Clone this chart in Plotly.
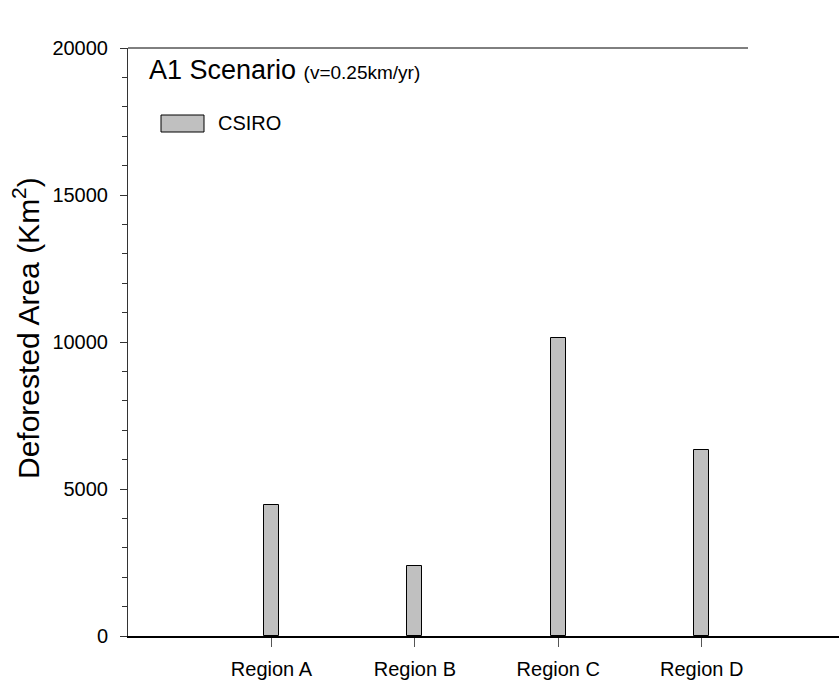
import plotly.graph_objects as go

regions = ["Region A", "Region B", "Region C", "Region D"]
csiro = [4450, 2380, 10150, 6330]
yticks = [0, 5000, 10000, 15000, 20000]
ytick_text = ["0", "5000", "10000", "15000", "20000"]

FONT = "Liberation Sans, Arial, sans-serif"

fig = go.Figure()
fig.add_trace(go.Bar(
    x=list(range(len(regions))), y=csiro, name="CSIRO",
    width=0.105,
    marker=dict(color="#c0c0c0", line=dict(color="black", width=1)),
    showlegend=False,
))

fig.update_layout(
    width=839, height=683,
    margin=dict(l=128, r=0, t=48, b=47),
    plot_bgcolor="white", paper_bgcolor="white",
    font=dict(family=FONT, color="black", size=20),
    bargap=0,
)
fig.update_xaxes(
    range=[-1.0, 3.957],
    tickvals=list(range(len(regions))), ticktext=regions,
    ticks="outside", ticklen=9, tickcolor="#555555", tickwidth=1,
    showline=True, linecolor="black", linewidth=2,
    showgrid=False, zeroline=False,
    tickfont=dict(size=20), ticklabelstandoff=5,
)
fig.update_yaxes(
    range=[0, 20000],
    tickvals=yticks, ticktext=ytick_text,
    ticks="outside", ticklen=7, tickcolor="#333333", tickwidth=1,
    minor=dict(dtick=1000, ticks="outside", ticklen=5, tickcolor="#333333", tickwidth=1),
    showline=True, linecolor="#333333", linewidth=1,
    showgrid=False, zeroline=False,
    tickfont=dict(size=20), ticklabelstandoff=8,
)

# top border line (ends short of the right edge, as in the reference)
fig.add_shape(type="line", xref="paper", yref="paper", x0=0, x1=(748 - 128) / 711, y0=1, y1=1,
              line=dict(color="black", width=1))

# y-axis title
fig.add_annotation(
    text="Deforested Area (Km<sup>2</sup>)", textangle=-90,
    xref="paper", yref="paper", x=(26 - 128) / 711, y=(636 - 328) / 588,
    xanchor="center", yanchor="middle", showarrow=False,
    font=dict(size=30, family=FONT),
)

# scenario label
fig.add_annotation(
    text="A1 Scenario <span style='font-size:19px'>(v=0.25km/yr)</span>",
    xref="paper", yref="paper", x=(147 - 128) / 711, y=(636 - 70) / 588,
    xanchor="left", yanchor="middle", showarrow=False,
    font=dict(size=27, family=FONT),
)

# legend swatch
fig.add_shape(type="rect", xref="paper", yref="paper",
              x0=(161 - 128) / 711, x1=(204 - 128) / 711,
              y0=(636 - 132) / 588, y1=(636 - 115) / 588,
              fillcolor="#c0c0c0", line=dict(color="black", width=1))
fig.add_annotation(
    text="CSIRO", xref="paper", yref="paper",
    x=(216 - 128) / 711, y=(636 - 123) / 588,
    xanchor="left", yanchor="middle", showarrow=False,
    font=dict(size=20, family=FONT),
)

fig.write_html("out.html")
